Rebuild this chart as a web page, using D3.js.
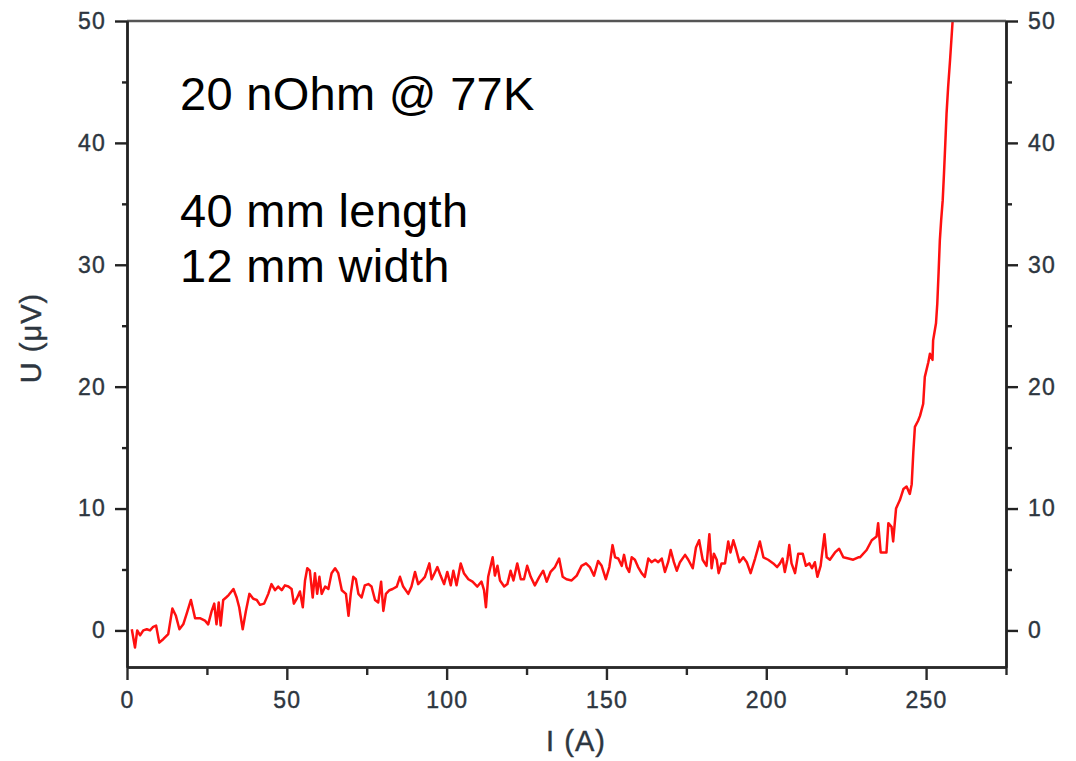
<!DOCTYPE html>
<html>
<head>
<meta charset="utf-8">
<script src="https://cdn.jsdelivr.net/npm/d3@7"></script>
<style>
  body { margin: 0; background: #fff; }
  svg { display: block; }
</style>
</head>
<body>
<svg id="chart" width="1076" height="761"></svg>
<script>
// Measured current sweep: current I (A) and voltage U (µV)
const currentA = [
  1.5, 2.5, 3.2, 4.1, 5.1, 6.2, 7.2, 8.2, 9.1, 10.1, 11.4, 12.9, 14.2, 15.3, 16.4, 17.6, 18.7, 20.0,
  21.3, 22.8, 24.4, 25.4, 26.5, 27.3, 28.0, 28.7, 29.3, 30.1, 31.0, 31.8, 33.3, 34.3, 35.1, 36.2, 37.2,
  38.3, 39.5, 40.6, 41.6, 42.9, 44.2, 45.2, 46.3, 47.3, 48.4, 49.4, 50.5, 51.5, 52.2, 53.1, 54.1, 55.0,
  55.7, 56.4, 57.2, 58.1, 58.8, 59.5, 60.2, 60.9, 62.0, 63.0, 64.0, 65.1, 66.1, 67.2, 68.5, 69.3, 70.0,
  70.8, 71.6, 72.4, 73.4, 74.4, 75.5, 76.5, 77.6, 78.6, 79.5, 80.2, 81.0, 82.1, 83.1, 84.4, 85.4,
  86.4, 88.0, 89.0, 90.1, 91.1, 92.2, 93.2, 94.6, 95.3, 96.4, 97.1, 98.1, 99.2, 100.2, 101.3, 102.1,
  103.1, 104.4, 105.4, 106.8, 108.1, 109.6, 110.9, 111.7, 112.3, 113.0, 113.8, 114.4, 115.1, 115.9,
  116.7, 118.0, 119.0, 120.0, 120.9, 122.1, 123.2, 124.2, 125.2, 126.3, 127.6, 129.0, 130.2, 131.3,
  132.5, 133.9, 135.2, 136.3, 137.5, 139.1, 140.7, 142.2, 143.6, 144.8, 146.1, 147.4, 148.5, 149.8,
  150.9, 151.9, 152.7, 153.7, 154.8, 155.5, 156.3, 157.1, 157.9, 158.9, 159.9, 161.0, 162.0, 163.1,
  164.1, 165.2, 166.2, 167.3, 168.3, 169.3, 170.1, 171.1, 172.0,
  173.0, 174.6, 175.6, 177.0, 178.0, 179.0, 180.1, 181.3, 182.2, 182.9, 183.6, 184.5, 185.1, 186.0,
  187.1, 188.1, 188.8, 189.7, 190.5, 191.6, 192.8, 193.9, 195.1, 196.5, 198.0, 199.1, 200.6, 202.2,
  203.4, 204.3, 205.1, 205.8, 206.6, 207.2, 207.9, 209.0, 210.0, 211.4, 212.4, 213.5, 214.3, 215.2,
  216.0, 217.0, 217.6, 218.2, 218.9, 219.9, 221.5, 222.8, 224.1, 225.7, 227.2, 228.8,
  229.3, 231.4, 233.0, 234.5, 235.0, 235.8, 237.6, 238.2, 239.2, 239.7, 240.6, 241.8, 242.9, 243.9,
  244.9, 245.5, 246.0, 246.5, 247.5, 248.1, 249.1, 249.6, 250.7, 251.2, 252.0, 252.2, 253.1, 253.5,
  253.9, 254.3, 254.7, 255.2, 255.6, 256.0, 256.4, 256.9, 257.5, 257.9, 258.3
];
const voltageUV = [
  0.1, -1.4, 0.0, -0.4, 0.0, 0.1, 0.0, 0.3, 0.4, -1.0, -0.7, -0.3, 1.8, 1.2, 0.1, 0.5, 1.4, 2.5,
  1.0, 1.0, 0.8, 0.5, 1.6, 2.2, 0.5, 2.3, 0.4, 2.5, 2.7, 2.9, 3.4, 2.7, 1.9, 0.1, 1.6,
  3.0, 2.6, 2.5, 2.1, 2.2, 3.0, 3.8, 3.3, 3.6, 3.3, 3.7, 3.6, 3.4, 2.2, 2.6, 3.2, 1.9,
  4.1, 5.1, 4.9, 2.7, 4.7, 3.0, 4.4, 3.0, 3.6, 3.4, 4.7, 5.1, 4.7, 3.3, 3.0, 1.2, 3.0,
  4.4, 4.2, 3.0, 2.7, 3.7, 3.8, 3.6, 2.5, 2.3, 4.0, 1.6, 3.0, 3.3, 3.4, 3.6, 4.4,
  3.6, 3.0, 3.6, 4.8, 3.8, 4.1, 4.4, 5.5, 4.2, 4.8, 5.2, 4.5, 3.8, 4.8, 3.7, 4.9,
  3.7, 5.5, 4.7, 4.2, 4.0, 3.6, 4.0, 3.3, 1.9, 4.4, 5.3, 6.0, 4.5, 5.3,
  4.1, 3.6, 3.8, 4.9, 4.1, 5.5, 4.2, 4.2, 5.3, 4.4, 3.7, 4.4, 4.9, 4.0,
  4.8, 5.2, 5.9, 4.4, 4.2, 4.1, 4.5, 5.3, 5.5, 5.2, 4.5, 5.7, 5.3, 4.2,
  5.2, 7.0, 6.0, 5.9, 5.3, 6.2, 5.2, 4.8, 6.0, 5.8, 5.2, 4.7, 4.4, 5.9,
  5.6, 5.8, 5.6, 5.9, 4.8, 5.6, 6.6, 5.6, 4.9,
  5.6, 6.2, 5.8, 5.1, 6.8, 7.4, 5.8, 5.3, 7.9, 5.1, 6.3, 5.8, 4.7, 5.5,
  5.5, 7.3, 6.4, 7.4, 6.7, 5.6, 6.0, 5.6, 4.7, 5.9, 7.3, 6.0, 5.8, 5.5,
  5.2, 5.5, 5.9, 4.8, 5.8, 7.0, 5.5, 4.7, 6.3, 6.3, 5.3, 5.5, 5.1, 5.6,
  4.4, 5.3, 6.6, 7.9, 6.0, 5.8, 6.4, 6.7, 6.0, 5.9, 5.8, 6.0,
  6.0, 6.6, 7.4, 7.7, 8.8, 6.4, 6.4, 8.8, 8.5, 7.3, 10.0, 10.7, 11.6, 11.8,
  11.2, 12.0, 14.6, 16.7, 17.2, 17.6, 18.6, 20.8, 22.0, 22.7, 22.2, 23.8, 25.2, 26.8,
  29.3, 32.0, 33.6, 35.3, 37.5, 39.9, 42.4, 44.6, 46.8, 48.4, 50.0
];

const xMajorTicks = [0, 50, 100, 150, 200, 250];
const xMinorTicks = [25, 75, 125, 175, 225, 275];
const yMajorTicks = [0, 10, 20, 30, 40, 50];
const yMinorTicks = [5, 15, 25, 35, 45];
const annotationLines = ["20 nOhm @ 77K", "40 mm length", "12 mm width"];
const xTitle = "I (A)";
const yTitle = "U (\u03bcV)";

const FONT = "'Liberation Sans', Arial, Helvetica, sans-serif";
const LABEL_INK = "#2d3640";
const svg = d3.select("#chart");

const x = d3.scaleLinear().domain([0, 275]).range([127, 1006]);
const y = d3.scaleLinear().domain([-3, 50]).range([667, 21]);

// clip the trace to the frame
svg.append("clipPath").attr("id", "plot-clip")
  .append("rect")
  .attr("x", x(0)).attr("y", y(50))
  .attr("width", x(275) - x(0)).attr("height", y(-3) - y(50));

const points = currentA.map((c, i) => [c, voltageUV[i]]);
svg.append("path")
  .datum(points)
  .attr("clip-path", "url(#plot-clip)")
  .attr("fill", "none")
  .attr("stroke", "#ff1010")
  .attr("stroke-width", 2.5)
  .attr("stroke-linejoin", "round")
  .attr("d", d3.line().x(d => x(d[0])).y(d => y(d[1])));

// top frame line
svg.append("line")
  .attr("x1", x(0)).attr("x2", x(275))
  .attr("y1", y(50)).attr("y2", y(50))
  .attr("stroke", "#555").attr("stroke-width", 2.5);

function styleAxis(g, color) {
  g.select(".domain").attr("stroke", color).attr("stroke-width", 2.4);
  g.selectAll(".tick line").attr("stroke", color).attr("stroke-width", 2.4);
  g.selectAll("text")
    .attr("font-family", FONT)
    .attr("font-size", 23)
    .attr("letter-spacing", "1.2px")
    .attr("fill", LABEL_INK)
    .attr("stroke", LABEL_INK)
    .attr("stroke-width", 0.4);
}

// bottom axis
const gxMinor = svg.append("g").attr("transform", `translate(0,${y(-3)})`)
  .call(d3.axisBottom(x).tickValues(xMinorTicks).tickSize(8).tickSizeOuter(0).tickFormat(() => ""));
styleAxis(gxMinor, "#2a2a2a");
const gx = svg.append("g").attr("transform", `translate(0,${y(-3)})`)
  .call(d3.axisBottom(x).tickValues(xMajorTicks).tickSize(13).tickSizeOuter(0).tickPadding(12).tickFormat(d3.format("d")));
styleAxis(gx, "#2a2a2a");

// left axis
const gyMinor = svg.append("g").attr("transform", `translate(${x(0)},0)`)
  .call(d3.axisLeft(y).tickValues(yMinorTicks).tickSize(5).tickSizeOuter(0).tickFormat(() => ""));
styleAxis(gyMinor, "#222");
const gy = svg.append("g").attr("transform", `translate(${x(0)},0)`)
  .call(d3.axisLeft(y).tickValues(yMajorTicks).tickSize(12).tickSizeOuter(0).tickPadding(9).tickFormat(d3.format("d")));
styleAxis(gy, "#222");

// right axis
const grMinor = svg.append("g").attr("transform", `translate(${x(275)},0)`)
  .call(d3.axisRight(y).tickValues(yMinorTicks).tickSize(6).tickSizeOuter(0).tickFormat(() => ""));
styleAxis(grMinor, "#222");
const gr = svg.append("g").attr("transform", `translate(${x(275)},0)`)
  .call(d3.axisRight(y).tickValues(yMajorTicks).tickSize(12).tickSizeOuter(0).tickPadding(10).tickFormat(d3.format("d")));
styleAxis(gr, "#222");

// axis titles
svg.append("text")
  .attr("x", 576).attr("y", 751)
  .attr("text-anchor", "middle")
  .attr("font-family", FONT).attr("font-size", 29)
  .attr("letter-spacing", "1px")
  .attr("fill", LABEL_INK).attr("stroke", LABEL_INK).attr("stroke-width", 0.4)
  .text(xTitle);

svg.append("text")
  .attr("transform", "translate(41,338) rotate(-90)")
  .attr("text-anchor", "middle")
  .attr("font-family", FONT).attr("font-size", 29)
  .attr("letter-spacing", "1px")
  .attr("fill", LABEL_INK).attr("stroke", LABEL_INK).attr("stroke-width", 0.4)
  .text(yTitle);

// annotation block
const baselines = [110, 227, 282];
svg.append("g").selectAll("text")
  .data(annotationLines)
  .join("text")
  .attr("x", 180)
  .attr("y", (d, i) => baselines[i])
  .attr("font-family", FONT)
  .attr("font-size", 47)
  .attr("letter-spacing", "0.3px")
  .attr("fill", "#000")
  .text(d => d);
</script>
</body>
</html>
